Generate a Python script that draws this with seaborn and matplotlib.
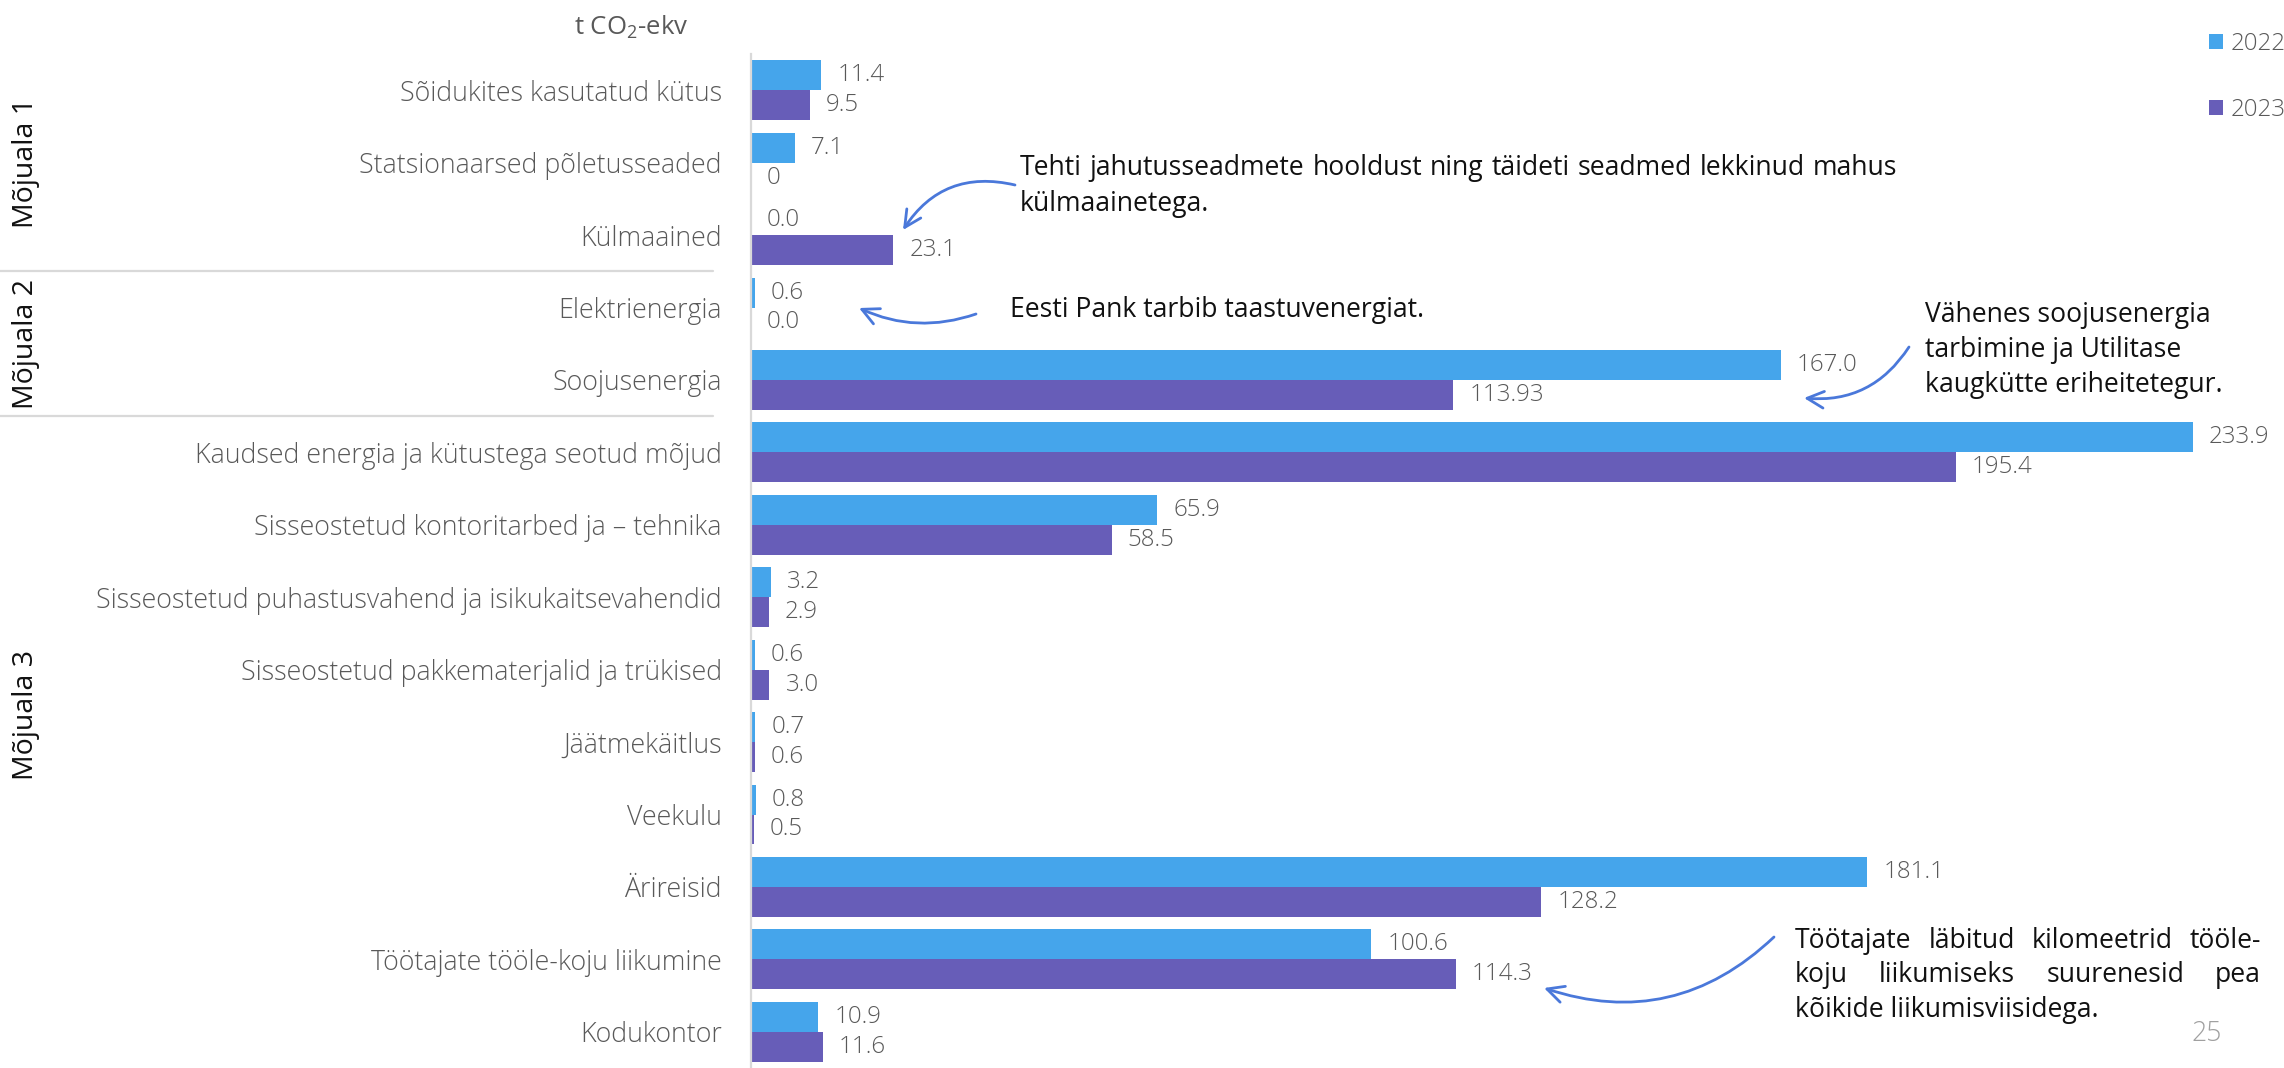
import numpy as np
import pandas as pd
import matplotlib
matplotlib.use("Agg")
import matplotlib.pyplot as plt
import seaborn as sns
from matplotlib import font_manager as fm
from matplotlib.patches import FancyArrowPatch
from matplotlib.lines import Line2D
from matplotlib import transforms

# ---------------- data ----------------
categories = [
    "Sõidukites kasutatud kütus",
    "Statsionaarsed põletusseaded",
    "Külmaained",
    "Elektrienergia",
    "Soojusenergia",
    "Kaudsed energia ja kütustega seotud mõjud",
    "Sisseostetud kontoritarbed ja – tehnika",
    "Sisseostetud puhastusvahend ja isikukaitsevahendid",
    "Sisseostetud pakkematerjalid ja trükised",
    "Jäätmekäitlus",
    "Veekulu",
    "Ärireisid",
    "Töötajate tööle-koju liikumine",
    "Kodukontor",
]
groups = ["Mõjuala 1", "Mõjuala 2", "Mõjuala 3"]
group_sizes = [3, 2, 9]
years = ["2022", "2023"]
values_2022 = [11.4, 7.1, 0.0, 0.6, 167.0, 233.9, 65.9, 3.2, 0.6, 0.7, 0.8, 181.1, 100.6, 10.9]
values_2023 = [9.5, 0.0, 23.1, 0.0, 113.93, 195.4, 58.5, 2.9, 3.0, 0.6, 0.5, 128.2, 114.3, 11.6]
labels_2022 = ["11.4", "7.1", "0.0", "0.6", "167.0", "233.9", "65.9", "3.2", "0.6", "0.7", "0.8", "181.1", "100.6", "10.9"]
labels_2023 = ["9.5", "0", "23.1", "0.0", "113.93", "195.4", "58.5", "2.9", "3.0", "0.6", "0.5", "128.2", "114.3", "11.6"]
unit_label = "t CO$_2$-ekv"
page_number = "25"
note_1 = ["Tehti jahutusseadmete hooldust ning täideti seadmed lekkinud mahus", "külmaainetega."]
note_2 = ["Eesti Pank tarbib taastuvenergiat."]
note_3 = ["Vähenes soojusenergia", "tarbimine ja Utilitase", "kaugkütte eriheitetegur."]
note_4 = ["Töötajate läbitud kilomeetrid tööle-", "koju liikumiseks suurenesid pea", "kõikide liikumisviisidega."]

BLUE = "#45A5EB"
PURPLE = "#675DB8"
GREY = "#595959"
LIGHTGREY = "#d9d9d9"
ARROW = "#4A78DA"

# ---------------- fonts ----------------
sns.set_style("white")


def has_face(name, weight):
    for f in fm.fontManager.ttflist:
        if f.name == name:
            w = f.weight
            if isinstance(w, str):
                w = fm.weight_dict.get(w, 400)
            if abs(int(w) - weight) <= 50:
                return True
    return False


LIGHT_FAM, LIGHT_W = "Open Sans", "normal"
for cand in ["Open Sans", "Lato", "Roboto", "Inter", "Noto Sans"]:
    if has_face(cand, 300):
        LIGHT_FAM, LIGHT_W = cand, "light"
        break
REG_FAM = "Open Sans"
plt.rcParams["font.family"] = [LIGHT_FAM, "DejaVu Sans"]
plt.rcParams["mathtext.fontset"] = "custom"
plt.rcParams["mathtext.rm"] = LIGHT_FAM
plt.rcParams["mathtext.it"] = LIGHT_FAM
plt.rcParams["mathtext.bf"] = LIGHT_FAM

W, H = 2284, 1068
fig = plt.figure(figsize=(W / 100, H / 100), dpi=100)
renderer = fig.canvas.get_renderer()


def fit_size(s, target_px, family, weight, base=20):
    t = fig.text(0, 0, s, fontsize=base, family=family, weight=weight)
    w = t.get_window_extent(renderer).width
    t.remove()
    return base * target_px / w


CAT_SIZE = fit_size(categories[0], 322, LIGHT_FAM, LIGHT_W)
VAL_SIZE = fit_size("233.9", 61, LIGHT_FAM, LIGHT_W)
NOTE_SIZE = fit_size(note_2[0], 413, REG_FAM, "normal")
GROUP_SIZE = fit_size(groups[0], 130, REG_FAM, "normal")
UNIT_SIZE = fit_size("t CO2-ekv", 112, LIGHT_FAM, LIGHT_W)

# ---------------- axes / bars ----------------
ax_left, ax_right, ax_top = 751, 2200, 54
ax = fig.add_axes([ax_left / W, 0, (ax_right - ax_left) / W, (H - ax_top) / H])

df = pd.DataFrame({
    "category": categories * 2,
    "year": [years[0]] * len(categories) + [years[1]] * len(categories),
    "value": values_2022 + values_2023,
})
sns.barplot(data=df, y="category", x="value", hue="year", orient="h",
            palette=[BLUE, PURPLE], width=0.825, saturation=1, linewidth=0,
            errorbar=None, ax=ax)

row_px = 72.7
n_vis = (H - ax_top) / row_px
ax.set_ylim(-0.5 + n_vis, -0.5)
ax.set_xlim(0, (ax_right - ax_left) / 6.165)

for cont, labs in zip(ax.containers, [labels_2022, labels_2023]):
    ax.bar_label(cont, labels=labs, padding=11.5, fontsize=VAL_SIZE, color=GREY,
                 family=LIGHT_FAM, weight=LIGHT_W)

for s in ["top", "right", "bottom"]:
    ax.spines[s].set_visible(False)
ax.spines["left"].set_color(LIGHTGREY)
ax.spines["left"].set_linewidth(1.6)
ax.set_xticks([])
ax.set_xlabel("")
ax.set_ylabel("")
ax.set_yticks(range(len(categories)))
ax.set_yticklabels(categories, family=LIGHT_FAM, weight=LIGHT_W)
ax.set_yticks(np.arange(-0.5, len(categories), 1), minor=True)
ax.tick_params(axis="y", which="major", length=0, pad=21, labelsize=CAT_SIZE, labelcolor=GREY)
ax.tick_params(axis="y", which="minor", length=15, width=1.5, color=LIGHTGREY, direction="inout")

# legend
handles, labs = ax.get_legend_handles_labels()
if ax.get_legend() is not None:
    ax.get_legend().remove()
fig.legend(handles, labs, loc="upper left", bbox_to_anchor=(2209 / W, 1 - 32 / H),
           frameon=False, handlelength=0.58, handleheight=0.58, handletextpad=0.3,
           labelspacing=1.75, borderpad=0, borderaxespad=0, labelcolor=GREY,
           prop=dict(family=LIGHT_FAM, weight=LIGHT_W, size=VAL_SIZE))

# group separators and group labels
blend = transforms.blended_transform_factory(fig.transFigure, ax.transData)
bounds = np.cumsum(group_sizes)[:-1] - 0.5
for b in bounds:
    fig.add_artist(Line2D([0, 713 / W], [b, b], transform=blend, color=LIGHTGREY, lw=1.6))
group_y = [1.0, 3.5, 8.62]
for g, gy in zip(groups, group_y):
    fig.text(26 / W, gy, g, transform=blend, rotation=90, ha="center", va="center",
             fontsize=GROUP_SIZE, family=REG_FAM, color="#111111")

# unit label, page number
fig.text(631 / W, 1 - 27 / H, unit_label, ha="center", va="center", fontsize=UNIT_SIZE, color=GREY)
fig.text(2207 / W, 1 - 1034 / H, page_number, ha="center", va="center", fontsize=VAL_SIZE * 1.1,
         color="#a0a0a0", family=LIGHT_FAM, weight=LIGHT_W)


# ---------------- annotations ----------------
def note_line(x, y, s, right=None):
    kw = dict(fontsize=NOTE_SIZE, family=REG_FAM, color="#111111", va="baseline", ha="left")
    if right is None:
        fig.text(x / W, 1 - y / H, s, **kw)
        return
    words = s.split(" ")
    arts = [fig.text(0, 0, w, **kw) for w in words]
    widths = [a.get_window_extent(renderer).width for a in arts]
    gap = (right - x - sum(widths)) / max(len(words) - 1, 1)
    cx = x
    for a, wd in zip(arts, widths):
        a.set_position((cx / W, 1 - y / H))
        cx += wd + gap


note_line(1020, 175, note_1[0], right=1897)
note_line(1020, 211, note_1[1])
note_line(1010, 317, note_2[0])
for i, s in enumerate(note_3):
    note_line(1925, 322 + i * 35, s)
note_line(1795, 948, note_4[0], right=2261)
note_line(1795, 982, note_4[1], right=2261)
note_line(1795, 1017, note_4[2])


def arrow(p0, p1, rad):
    a = FancyArrowPatch((p0[0] / W, 1 - p0[1] / H), (p1[0] / W, 1 - p1[1] / H),
                        transform=fig.transFigure, connectionstyle=f"arc3,rad={rad}",
                        arrowstyle="->,head_length=12,head_width=6", color=ARROW, lw=2.0,
                        shrinkA=0, shrinkB=0)
    fig.add_artist(a)


arrow((1015, 185), (903, 230), 0.35)
arrow((976, 314), (859, 308), -0.2)
arrow((1909, 347), (1804, 398), -0.3)
arrow((1774, 937), (1544, 988), -0.3)

fig.savefig("out.png", dpi=100)
